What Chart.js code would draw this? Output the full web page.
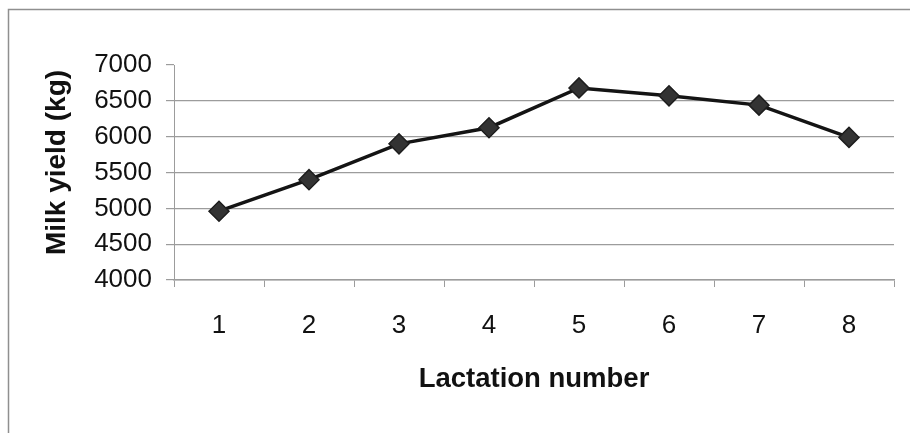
<!DOCTYPE html>
<html>
<head>
<meta charset="utf-8">
<script src="https://cdn.jsdelivr.net/npm/chart.js@4"></script>
<style>
  html, body { margin: 0; padding: 0; background: #fff; overflow: hidden; }
  #wrap { width: 910px; height: 433px; }
</style>
</head>
<body>
<div id="wrap"><canvas id="chart" width="910" height="433"></canvas></div>
<script>
// Milk yield by lactation number
const lactations = ['1', '2', '3', '4', '5', '6', '7', '8'];
const milkYield = [4960, 5400, 5900, 6125, 6680, 6570, 6440, 5990];
const yieldTicks = [4000, 4500, 5000, 5500, 6000, 6500, 7000];
const xTitle = 'Lactation number';
const yTitle = 'Milk yield (kg)';

const GRID = '#9c9c9c';
const FONT = "'Liberation Sans', Arial, Helvetica, sans-serif";

// thin grey frame around the figure, and the vertical axis title
const framePlugin = {
  id: 'frame',
  beforeDraw(chart) {
    const ctx = chart.ctx;
    ctx.save();
    ctx.fillStyle = '#ffffff';
    ctx.fillRect(0, 0, chart.width, chart.height);
    ctx.strokeStyle = '#8f8f8f';
    ctx.lineWidth = 1.5;
    ctx.beginPath();
    ctx.moveTo(chart.width, 9.5);
    ctx.lineTo(8.5, 9.5);
    ctx.lineTo(8.5, chart.height);
    ctx.stroke();
    ctx.restore();
  },
  afterDraw(chart) {
    const y = chart.scales.y;
    const ctx = chart.ctx;
    ctx.save();
    ctx.translate(57, (y.top + y.bottom) / 2 - 10);
    ctx.rotate(-Math.PI / 2);
    ctx.fillStyle = '#111';
    ctx.font = "bold 28px " + FONT;
    ctx.textAlign = 'center';
    ctx.textBaseline = 'middle';
    ctx.fillText(yTitle, 0, 0);
    ctx.restore();
  }
};

new Chart(document.getElementById('chart'), {
  type: 'line',
  data: {
    labels: lactations,
    datasets: [{
      data: milkYield,
      borderColor: '#141414',
      borderWidth: 3.5,
      pointStyle: 'rectRot',
      pointRadius: 10,
      pointHoverRadius: 10,
      pointBackgroundColor: '#333333',
      pointBorderColor: '#1e1e1e',
      pointBorderWidth: 1.5,
      tension: 0,
      fill: false
    }]
  },
  options: {
    responsive: false,
    animation: false,
    events: [],
    layout: { padding: { left: 0, top: 65, right: 16, bottom: 0 } },
    plugins: {
      legend: { display: false },
      tooltip: { enabled: false }
    },
    scales: {
      x: {
        type: 'category',
        offset: true,
        grid: {
          offset: true,
          drawOnChartArea: false,
          drawTicks: true,
          tickLength: 7,
          color: GRID,
          lineWidth: 1
        },
        border: { display: true, color: GRID, width: 1.5 },
        ticks: {
          color: '#111',
          font: { family: FONT, size: 26 },
          padding: 23
        },
        title: {
          display: true,
          text: xTitle,
          color: '#111',
          font: { family: FONT, size: 27.5, weight: 'bold' },
          padding: { top: 0, bottom: 37 }
        },
        afterFit(scale) { scale.height = 153; }
      },
      y: {
        min: 4000,
        max: 7000,
        afterBuildTicks(scale) {
          scale.ticks = yieldTicks.map(v => ({ value: v }));
        },
        grid: {
          drawTicks: true,
          tickLength: 8,
          color: ctx => (ctx.tick && ctx.tick.value === 7000) ? 'rgba(0,0,0,0)' : GRID,
          tickColor: GRID,
          lineWidth: 1.2
        },
        border: { display: true, color: GRID, width: 1 },
        ticks: {
          color: '#111',
          font: { family: FONT, size: 26 },
          padding: 14,
          callback: v => String(v)
        },
        title: { display: false },
        afterFit(scale) { scale.width = 174; }
      }
    }
  },
  plugins: [framePlugin]
});
</script>
</body>
</html>
